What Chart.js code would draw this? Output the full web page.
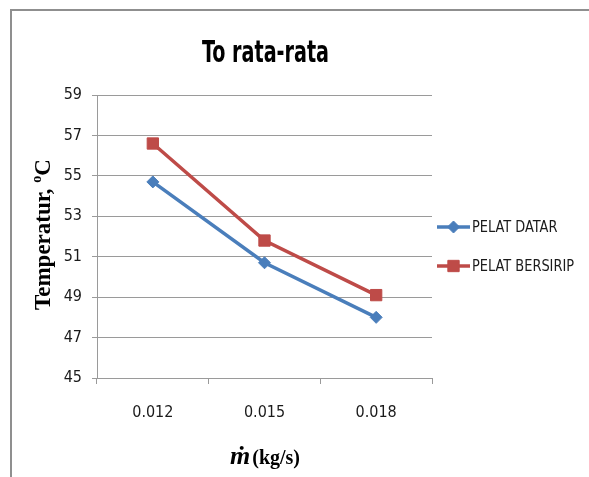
<!DOCTYPE html>
<html>
<head>
<meta charset="utf-8">
<script src="https://cdn.jsdelivr.net/npm/chart.js@4/dist/chart.umd.min.js"></script>
<style>
  html, body { margin: 0; padding: 0; background: #fff; }
  #wrap { width: 589px; height: 477px; position: relative; }
</style>
</head>
<body>
<div id="wrap"><canvas id="c" width="589" height="477"></canvas></div>
<script>
// Average outlet temperature vs. mass flow rate
const chartTitle = 'To rata-rata';
const massFlow = ['0.012', '0.015', '0.018'];
const pelatDatar = [54.7, 50.7, 48.0];
const pelatBersirip = [56.6, 51.8, 49.1];
const yTicks = [45, 47, 49, 51, 53, 55, 57, 59];
const seriesNames = ['PELAT DATAR', 'PELAT BERSIRIP'];

const NARROW = "'Liberation Sans Narrow', 'DejaVu Sans Condensed', 'Liberation Sans', sans-serif";
const SERIF = "'Liberation Serif', 'DejaVu Serif', serif";
const GRID = '#9a9a9a';
const BLUE = '#4a7ebb';
const RED = '#be4b48';

function markerPath(ctx, style, x, y, r) {
  ctx.beginPath();
  if (style === 'rectRot') {
    ctx.moveTo(x - r, y);
    ctx.lineTo(x, y - r);
    ctx.lineTo(x + r, y);
    ctx.lineTo(x, y + r);
  } else {
    const s = Math.SQRT1_2 * r;
    ctx.rect(x - s, y - s, 2 * s, 2 * s);
  }
  ctx.closePath();
}

// draw text squeezed horizontally to a narrow face
function narrowText(ctx, text, x, y, squeeze) {
  ctx.save();
  ctx.translate(x, y);
  ctx.scale(squeeze, 1);
  ctx.fillText(text, 0, 0);
  ctx.restore();
}

const decor = {
  id: 'decor',
  beforeDraw(chart) {
    const ctx = chart.ctx;
    ctx.save();
    ctx.strokeStyle = '#8f8f8f';
    ctx.lineWidth = 2;
    ctx.beginPath();
    ctx.moveTo(11, 477);
    ctx.lineTo(11, 10);
    ctx.lineTo(589, 10);
    ctx.stroke();
    ctx.restore();
  },
  afterDraw(chart) {
    const ctx = chart.ctx;
    const a = chart.chartArea;
    const cx = (a.left + a.right) / 2;
    const cy = (a.top + a.bottom) / 2;
    ctx.save();

    // title
    ctx.fillStyle = '#000';
    ctx.font = "bold 31px " + NARROW;
    ctx.textAlign = 'center';
    ctx.textBaseline = 'alphabetic';
    const tw = ctx.measureText(chartTitle).width;
    narrowText(ctx, chartTitle, cx + 1, 62, Math.min(1, 127 / tw));

    // y axis title with superscript degree
    ctx.save();
    ctx.translate(50, cy - 2);
    ctx.rotate(-Math.PI / 2);
    const main = 'Temperatur, ';
    const sup = 'o';
    const unit = 'C';
    ctx.font = "bold 23px " + SERIF;
    const w1 = ctx.measureText(main).width;
    const w3 = ctx.measureText(unit).width;
    ctx.font = "bold 14px " + SERIF;
    const w2 = ctx.measureText(sup).width;
    const total = w1 + w2 + w3;
    let x = -total / 2;
    ctx.textAlign = 'left';
    ctx.textBaseline = 'alphabetic';
    ctx.font = "bold 23px " + SERIF;
    ctx.fillText(main, x, 0);
    x += w1;
    ctx.font = "bold 14px " + SERIF;
    ctx.fillText(sup, x, -9);
    x += w2;
    ctx.font = "bold 23px " + SERIF;
    ctx.fillText(unit, x, 0);
    ctx.restore();

    // x axis title: m-dot (kg/s)
    ctx.textAlign = 'left';
    ctx.textBaseline = 'alphabetic';
    const mdot = '\u1E41';
    const rest = ' (kg/s)';
    ctx.font = "italic bold 26px " + SERIF;
    const mw = ctx.measureText(mdot).width;
    ctx.font = "bold 20px " + SERIF;
    const rw = ctx.measureText(rest).width;
    let sx = cx + 2 - (mw + rw) / 2;
    ctx.font = "italic bold 26px " + SERIF;
    ctx.fillText(mdot, sx, 464);
    ctx.font = "bold 20px " + SERIF;
    ctx.fillText(rest, sx + mw - 3, 464);

    // legend
    const rows = [227, 266];
    chart.data.datasets.forEach((ds, i) => {
      const y = rows[i];
      ctx.strokeStyle = ds.borderColor;
      ctx.lineWidth = ds.borderWidth;
      ctx.beginPath();
      ctx.moveTo(437, y);
      ctx.lineTo(470, y);
      ctx.stroke();
      ctx.fillStyle = ds.backgroundColor;
      ctx.lineWidth = 1;
      markerPath(ctx, ds.pointStyle, 453.5, y, ds.pointRadius);
      ctx.fill();
      ctx.stroke();
      ctx.fillStyle = '#1a1a1a';
      ctx.font = "16px " + NARROW;
      ctx.textAlign = 'left';
      ctx.textBaseline = 'middle';
      narrowText(ctx, ds.label, 472, y + 1, 0.9);
    });
    ctx.restore();
  }
};

new Chart(document.getElementById('c'), {
  type: 'line',
  data: {
    labels: massFlow,
    datasets: [
      {
        label: seriesNames[0],
        data: pelatDatar,
        borderColor: BLUE,
        backgroundColor: BLUE,
        borderWidth: 3.5,
        pointStyle: 'rectRot',
        pointRadius: 6,
        pointBorderWidth: 1,
        pointHoverRadius: 6,
        tension: 0
      },
      {
        label: seriesNames[1],
        data: pelatBersirip,
        borderColor: RED,
        backgroundColor: RED,
        borderWidth: 3.5,
        pointStyle: 'rect',
        pointRadius: 8,
        pointBorderWidth: 1,
        pointHoverRadius: 8,
        tension: 0
      }
    ]
  },
  options: {
    responsive: false,
    animation: false,
    events: [],
    layout: { padding: { left: 0, right: 157, top: 95, bottom: 0 } },
    plugins: {
      legend: { display: false },
      title: { display: false },
      tooltip: { enabled: false }
    },
    scales: {
      x: {
        type: 'category',
        offset: true,
        grid: {
          display: true,
          drawOnChartArea: false,
          drawTicks: true,
          tickLength: 6,
          offset: true,
          color: GRID,
          lineWidth: 1
        },
        border: { display: true, color: GRID, width: 1 },
        ticks: {
          color: '#1a1a1a',
          font: { family: NARROW, size: 16 },
          padding: 19,
          maxRotation: 0
        },
        afterFit(scale) { scale.height = 99; }
      },
      y: {
        min: 45,
        max: 59,
        afterBuildTicks(scale) { scale.ticks = yTicks.map(v => ({ value: v })); },
        grid: {
          color: GRID,
          lineWidth: 1,
          drawTicks: true,
          tickLength: 5
        },
        border: { display: true, color: GRID, width: 1 },
        ticks: {
          color: '#1a1a1a',
          font: { family: NARROW, size: 16 },
          padding: 10
        },
        afterFit(scale) { scale.width = 97; }
      }
    }
  },
  plugins: [decor]
});
</script>
</body>
</html>
